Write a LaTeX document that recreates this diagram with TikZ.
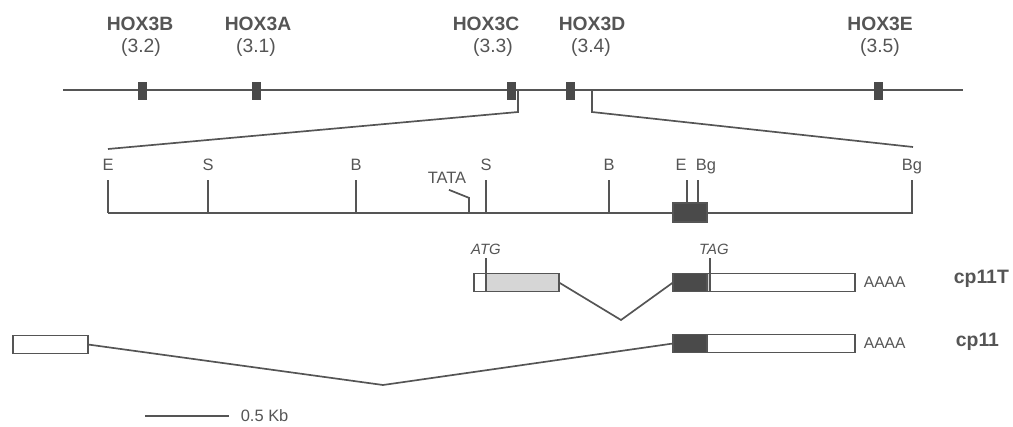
\documentclass[tikz,border=0pt]{standalone}
\usepackage{fontspec}
\setmainfont{Liberation Sans}
\usepackage{xcolor}
\usepackage{tikz}
\usetikzlibrary{positioning}

\definecolor{inkgray}{HTML}{555555}
\definecolor{boxgray}{HTML}{4A4A4A}
\definecolor{dotgray}{HTML}{D6D6D6}

\begin{document}
\begin{tikzpicture}[
                x=0.025cm, y=-0.025cm, color=inkgray, line width=1.2pt,
                hox/.style={font=\fontsize{13.7}{16}\selectfont\bfseries, inner sep=0},
                locus/.style={font=\fontsize{13.7}{16}\selectfont, inner sep=0},
                gene/.style={draw=boxgray, fill=boxgray, line width=0.5pt, minimum width=0.2cm, minimum height=0.44cm, inner sep=0, outer sep=0},
                site/.style={font=\fontsize{11.7}{14}\selectfont, inner sep=0, anchor=base},
                codon/.style={font=\fontsize{10.6}{13}\selectfont\itshape, inner sep=0, anchor=base},
                exon/.style={draw=inkgray, line width=0.9pt, minimum height=0.45cm, inner sep=0, outer sep=0},
                utr/.style={exon, fill=white},
                coding/.style={exon, fill=dotgray},
                orf/.style={exon, fill=boxgray},
                poly/.style={font=\fontsize{11.1}{13}\selectfont, inner sep=0},
                rna/.style={font=\fontsize{13.8}{16}\selectfont\bfseries, inner sep=0, anchor=west}
            ]
            \useasboundingbox (0,0) rectangle (1013,427);
            % cluster
            \coordinate (top0) at (63,90);
            \coordinate (top1) at (963,90);
            \draw (top0) -- (top1);
            \node[gene] (g32) at (142,91) {};
            \node[gene] (g31) at (256,91) {};
            \node[gene] (g33) at (511,91) {};
            \node[gene] (g34) at (570,91) {};
            \node[gene] (g35) at (878,91) {};
            \node[hox] (h32) at (140,24) {HOX3B};
            \node[hox] (h31) at (258,24) {HOX3A};
            \node[hox] (h33) at (486,24) {HOX3C};
            \node[hox] (h34) at (592,24) {HOX3D};
            \node[hox] (h35) at (880,24) {HOX3E};
            \node[locus] (l32) at (141,48) {(3.2)};
            \node[locus] (l31) at (256,48) {(3.1)};
            \node[locus] (l33) at (493,48) {(3.3)};
            \node[locus] (l34) at (591,48) {(3.4)};
            \node[locus] (l35) at (880,48) {(3.5)};
            % enlarged region
            \coordinate (zl) at (518,90);
            \coordinate (zr) at (592,90);
            \coordinate (ml) at (108,149);
            \coordinate (mr) at (913,147);
            \draw (zl) -- ++(0,22) -- (ml);
            \draw (zr) -- ++(0,22) -- (mr);
            % restriction map
            \coordinate (m0) at (108,213);
            \coordinate (m1) at (913,213);
            \draw (m0) -- (m1);
            \foreach \x/\lx/\s/\n in {108/108/E/e1, 208/208/S/s1, 356/356/B/b1, 486/486/S/s2, 609/609/B/b2, 687/681/E/e2, 698/706/Bg/bg1, 912/912/Bg/bg2} {
                \node[site] (\n) at (\lx,170) {\s};
                \draw (\x,180) -- (\x,213);
            }
            \node[site] (tata) at (447,183) {TATA};
            \draw ([shift={(2,6)}]tata.south) -- ++(20,8) -- (469,213);
            \node[orf, minimum width=0.85cm, minimum height=0.475cm] (mbox) at (690,212.5) {};
            % cp11T
            \node[utr, minimum width=0.3cm] (t1a) at (480,282.5) {};
            \node[coding, minimum width=1.825cm, right=0pt of t1a] (t1b) {};
            \node[orf, minimum width=0.85cm] (t2a) at (690,282.5) {};
            \node[coding, minimum width=0.075cm, right=0pt of t2a] (t2s) {};
            \node[utr, minimum width=3.625cm, right=0pt of t2s] (t2b) {};
            \node[codon] (atg) at (486,254) {ATG};
            \node[codon] (tag) at (714,254) {TAG};
            \draw[line width=0.9pt] (t1a.north east) -- ++(0,-15);
            \draw[line width=0.9pt] (t2s.north east) -- ++(0,-15);
            \coordinate (vT) at (621,320);
            \draw (t1b.east) -- (vT) -- (t2a.west);
            \node[poly, right=0.2cm of t2b] (aT) {AAAA};
            \node[rna] (cpT) at (953,279) {cp11T};
            % cp11
            \node[utr, minimum width=1.875cm] (c1) at (50.5,344.5) {};
            \node[orf, minimum width=0.85cm] (c2a) at (690,343.5) {};
            \node[utr, minimum width=3.7cm, right=0pt of c2a] (c2b) {};
            \coordinate (vC) at (383,385);
            \draw (c1.east) -- (vC) -- (c2a.west);
            \node[poly, right=0.2cm of c2b] (aC) {AAAA};
            \node[rna] (cpC) at (955,342) {cp11};
            % scale
            \coordinate (sb0) at (145,416);
            \coordinate (sb1) at (229,416);
            \draw (sb0) -- (sb1);
            \node[site, anchor=west] (kb) at (240,416) {0.5 Kb};
        \end{tikzpicture}
\end{document}
